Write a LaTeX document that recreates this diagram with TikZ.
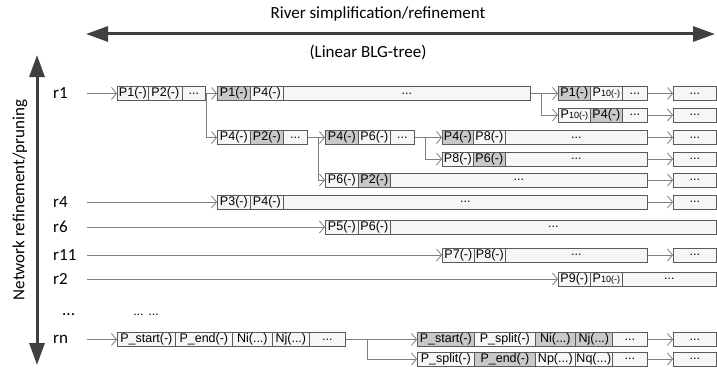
\documentclass[tikz,border=0pt]{standalone}
\usepackage{fontspec}
\setmainfont{Carlito}
\newfontfamily\cellfamily{Liberation Sans}
\usetikzlibrary{arrows.meta}
\definecolor{bigarrow}{HTML}{404040}
\definecolor{conngray}{HTML}{808080}
\definecolor{boxline}{HTML}{5A5A5A}
\definecolor{cellwhite}{HTML}{F6F6F6}
\definecolor{cellgray}{HTML}{C8C8C8}
\newcommand\cellfont{\cellfamily\fontsize{12.5}{13}\selectfont}
\newcommand\smallten{{\fontsize{9}{10}\selectfont 10(-)}}
\newcommand\Cbox[6]{\node[#1, minimum width={#4pt-#3pt}] (#2) at (#3,#5) {#6};}
\tikzset{
 cw/.style={draw=boxline, fill=cellwhite, line width=0.7pt, anchor=west, minimum height=14pt, inner sep=0pt, font=\cellfont},
 cg/.style={cw, fill=cellgray},
 conn/.style={draw=conngray, line width=0.8pt, -{Straight Barb[length=5pt,width=12pt]}},
 big/.style={draw=bigarrow, line width=3pt, {Triangle[length=22pt,width=15pt]}-{Triangle[length=22pt,width=15pt]}},
 lab/.style={font=\fontsize{17}{20}\selectfont, inner sep=0pt},
 rowlab/.style={lab, anchor=west}
}
\begin{document}
\begin{tikzpicture}[x=1pt,y=-1pt]
\fill[white] (0,0) rectangle (717,369);
\useasboundingbox (0,0) rectangle (717,369);
% titles
\node[lab] (t1) at (378,14) {River simplification/refinement};
\node[lab] (t2) at (368,52) {(Linear BLG-tree)};
\coordinate (hl) at (86,34);
\coordinate (hr) at (715,34);
\draw[big] (hl) -- (hr);
\coordinate (vt) at (37,55);
\coordinate (vb) at (37,365);
\draw[big] (vt) -- (vb);
\node[lab, rotate=90] (vlab) at (20,200) {Network refinement/pruning};
% row labels
\node[rowlab] (l1) at (53,93.5) {r1};
\node[rowlab] (l4) at (53,202) {r4};
\node[rowlab] (l6) at (53,227) {r6};
\node[rowlab] (l11) at (53,255) {r11};
\node[rowlab] (l2) at (53,279) {r2};
\node[rowlab] (ld) at (62,315) {...};
\node[rowlab] (ln) at (53,339.5) {rn};
\node[font=\cellfont, inner sep=0pt] (dd) at (146,315) {... ...};
% row r1
\Cbox{cw}{A1}{117}{148}{93.5}{P1(-)}
\Cbox{cw}{A2}{148}{182}{93.5}{P2(-)}
\Cbox{cw}{A3}{182}{205}{93.5}{...}
\Cbox{cg}{B11}{217}{250}{93.5}{P1(-)}
\Cbox{cw}{B12}{250}{283}{93.5}{P4(-)}
\Cbox{cw}{B13}{283}{530}{93.5}{...}
\Cbox{cg}{C11}{558}{590}{93.5}{P1(-)}
\Cbox{cw}{C12}{590}{622}{93.5}{P\smallten}
\Cbox{cw}{C13}{622}{647}{93.5}{...}
\Cbox{cw}{D1}{673}{716}{93.5}{...}
\Cbox{cw}{C21}{558}{590}{115}{P\smallten}
\Cbox{cg}{C22}{590}{622}{115}{P4(-)}
\Cbox{cw}{C23}{622}{647}{115}{...}
\Cbox{cw}{D2}{673}{716}{115}{...}
\Cbox{cw}{B21}{217}{250}{137.5}{P4(-)}
\Cbox{cg}{B22}{250}{283}{137.5}{P2(-)}
\Cbox{cw}{B23}{283}{307}{137.5}{...}
\Cbox{cg}{E11}{325}{358}{137.5}{P4(-)}
\Cbox{cw}{E12}{358}{390}{137.5}{P6(-)}
\Cbox{cw}{E13}{390}{414}{137.5}{...}
\Cbox{cg}{F11}{442}{473}{137.5}{P4(-)}
\Cbox{cw}{F12}{473}{505}{137.5}{P8(-)}
\Cbox{cw}{F13}{505}{647}{137.5}{...}
\Cbox{cw}{D3}{673}{716}{137.5}{...}
\Cbox{cw}{F21}{442}{473}{159}{P8(-)}
\Cbox{cg}{F22}{473}{505}{159}{P6(-)}
\Cbox{cw}{F23}{505}{647}{159}{...}
\Cbox{cw}{D4}{673}{716}{159}{...}
\Cbox{cw}{E21}{325}{358}{180}{P6(-)}
\Cbox{cg}{E22}{358}{390}{180}{P2(-)}
\Cbox{cw}{E23}{390}{647}{180}{...}
\Cbox{cw}{D5}{673}{716}{180}{...}
% r4
\Cbox{cw}{R41}{217}{250}{202}{P3(-)}
\Cbox{cw}{R42}{250}{283}{202}{P4(-)}
\Cbox{cw}{R43}{283}{647}{202}{...}
\Cbox{cw}{D6}{673}{716}{202}{...}
% r6
\Cbox{cw}{R61}{325}{358}{227}{P5(-)}
\Cbox{cw}{R62}{358}{390}{227}{P6(-)}
\Cbox{cw}{R63}{390}{716}{227}{...}
% r11
\Cbox{cw}{R111}{442}{474}{255}{P7(-)}
\Cbox{cw}{R112}{474}{505}{255}{P8(-)}
\Cbox{cw}{R113}{505}{647}{255}{...}
\Cbox{cw}{D7}{673}{716}{255}{...}
% r2
\Cbox{cw}{R21}{558}{590}{279}{P9(-)}
\Cbox{cw}{R22}{590}{622}{279}{P\smallten}
\Cbox{cw}{R23}{622}{716}{279}{...}
% rn
\Cbox{cw}{G1}{117}{175}{339.5}{P\_start(-)}
\Cbox{cw}{G2}{175}{232}{339.5}{P\_end(-)}
\Cbox{cw}{G3}{232}{272}{339.5}{Ni(...)}
\Cbox{cw}{G4}{272}{309}{339.5}{Nj(...)}
\Cbox{cw}{G5}{309}{345}{339.5}{...}
\Cbox{cg}{H11}{417}{474}{339.5}{P\_start(-)}
\Cbox{cw}{H12}{474}{535}{339.5}{P\_split(-)}
\Cbox{cg}{H13}{535}{575}{339.5}{Ni(...)}
\Cbox{cg}{H14}{575}{612}{339.5}{Nj(...)}
\Cbox{cw}{H15}{612}{647}{339.5}{...}
\Cbox{cw}{D8}{673}{716}{339.5}{...}
\Cbox{cw}{H21}{417}{474}{359}{P\_split(-)}
\Cbox{cg}{H22}{474}{535}{359}{P\_end(-)}
\Cbox{cw}{H23}{535}{575}{359}{Np(...)}
\Cbox{cw}{H24}{575}{612}{359}{Nq(...)}
\Cbox{cw}{H25}{612}{647}{359}{...}
\Cbox{cw}{D9}{673}{716}{359}{...}
% row start coordinates
\coordinate (s1) at (87,93.5);
\coordinate (s4) at (87,202);
\coordinate (s6) at (87,227);
\coordinate (s11) at (87,255);
\coordinate (s2) at (87,279);
\coordinate (sn) at (87,339.5);
\draw[conn] (s1) -- (A1.west);
\draw[conn] (s4) -- (R41.west);
\draw[conn] (s6) -- (R61.west);
\draw[conn] (s11) -- (R111.west);
\draw[conn] (s2) -- (R21.west);
\draw[conn] (sn) -- (G1.west);
% connectors
\draw[conn] (A3.east) -- (B11.west);
\draw[conn] (A3.east) ++(1,0) |- (B21.west);
\draw[conn] (B13.east) -- (C11.west);
\draw[conn] (B13.east) ++(11,0) |- (C21.west);
\draw[conn] (C13.east) -- (D1.west);
\draw[conn] (C23.east) -- (D2.west);
\draw[conn] (B23.east) -- (E11.west);
\draw[conn] (B23.east) ++(11,0) |- (E21.west);
\draw[conn] (E13.east) -- (F11.west);
\draw[conn] (E13.east) ++(11,0) |- (F21.west);
\draw[conn] (F13.east) -- (D3.west);
\draw[conn] (F23.east) -- (D4.west);
\draw[conn] (E23.east) -- (D5.west);
\draw[conn] (R43.east) -- (D6.west);
\draw[conn] (R113.east) -- (D7.west);
\draw[conn] (G5.east) -- (H11.west);
\draw[conn] (G5.east) ++(22,0) |- (H21.west);
\draw[conn] (H15.east) -- (D8.west);
\draw[conn] (H25.east) -- (D9.west);
\end{tikzpicture}
\end{document}
